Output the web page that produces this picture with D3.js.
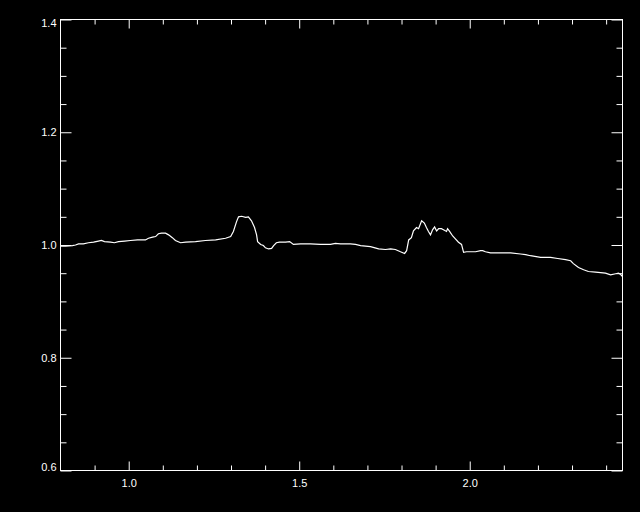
<!DOCTYPE html>
<html>
<head>
<meta charset="utf-8">
<script src="https://cdn.jsdelivr.net/npm/d3@7"></script>
<style>
  html, body { margin: 0; padding: 0; background: #000; }
  svg { display: block; }
  .tick text { font-family: "Liberation Sans", Arial, sans-serif; font-size: 11px; fill: #fff; }
</style>
</head>
<body>
<div id="chart"></div>
<script>
// values
var xValues = [0.800, 0.815, 0.835, 0.844, 0.853, 0.867, 0.882, 0.897, 0.911, 0.920,
  0.929, 0.947, 0.958, 0.970, 0.988, 1.005, 1.026, 1.049, 1.058, 1.070,
  1.079, 1.087, 1.096, 1.108, 1.117, 1.128, 1.137, 1.152, 1.167, 1.196,
  1.225, 1.255, 1.284, 1.299, 1.307, 1.316, 1.322, 1.331, 1.343, 1.351,
  1.360, 1.369, 1.375, 1.378, 1.387, 1.395, 1.401, 1.410, 1.419, 1.425,
  1.433, 1.442, 1.460, 1.472, 1.483, 1.504, 1.533, 1.562, 1.592, 1.606,
  1.621, 1.650, 1.665, 1.680, 1.709, 1.733, 1.753, 1.768, 1.782, 1.797,
  1.809, 1.815, 1.821, 1.829, 1.835, 1.844, 1.850, 1.859, 1.867, 1.873,
  1.879, 1.885, 1.891, 1.897, 1.903, 1.909, 1.917, 1.923, 1.932, 1.935,
  1.941, 1.950, 1.958, 1.967, 1.976, 1.982, 1.991, 2.017, 2.032, 2.038,
  2.046, 2.061, 2.090, 2.120, 2.149, 2.164, 2.178, 2.208, 2.237, 2.258,
  2.281, 2.296, 2.304, 2.319, 2.334, 2.348, 2.369, 2.384, 2.398, 2.413,
  2.428, 2.436, 2.442, 2.448];
var yValues = [0.998, 0.998, 0.999, 1.000, 1.002, 1.002, 1.004, 1.005, 1.007, 1.008,
  1.006, 1.005, 1.004, 1.006, 1.007, 1.008, 1.009, 1.009, 1.012, 1.014,
  1.015, 1.020, 1.021, 1.021, 1.018, 1.013, 1.008, 1.004, 1.005, 1.006,
  1.008, 1.009, 1.012, 1.015, 1.024, 1.041, 1.050, 1.051, 1.049, 1.050,
  1.043, 1.031, 1.018, 1.006, 1.001, 0.999, 0.995, 0.993, 0.994, 0.999,
  1.004, 1.005, 1.005, 1.006, 1.001, 1.002, 1.002, 1.001, 1.001, 1.003,
  1.002, 1.002, 1.001, 0.999, 0.997, 0.993, 0.992, 0.993, 0.992, 0.988,
  0.985, 0.990, 1.009, 1.013, 1.025, 1.031, 1.029, 1.043, 1.039, 1.031,
  1.024, 1.018, 1.027, 1.032, 1.025, 1.029, 1.029, 1.027, 1.024, 1.029,
  1.024, 1.016, 1.011, 1.005, 1.001, 0.987, 0.988, 0.988, 0.990, 0.990,
  0.988, 0.986, 0.986, 0.986, 0.984, 0.983, 0.981, 0.978, 0.978, 0.976,
  0.974, 0.972, 0.967, 0.960, 0.956, 0.953, 0.952, 0.951, 0.950, 0.947,
  0.949, 0.950, 0.948, 0.944];

var xDomain = [0.8, 2.448];
var yDomain = [0.6, 1.4];
var xMajorTicks = [1.0, 1.5, 2.0];
var xMinorTicks = [0.9, 1.1, 1.2, 1.3, 1.4, 1.6, 1.7, 1.8, 1.9, 2.1, 2.2, 2.3, 2.4];
var yMajorTicks = [0.6, 0.8, 1.0, 1.2, 1.4];
var yMinorTicks = [0.65, 0.7, 0.75, 0.85, 0.9, 0.95, 1.05, 1.1, 1.15, 1.25, 1.3, 1.35];

var width = 640, height = 512;
var plotLeft = 60.5, plotRight = 622.5, plotTop = 19.5, plotBottom = 470.5;

var svg = d3.select('#chart')
    .append('svg')
    .attr('width', width)
    .attr('height', height)
    .style('background', '#000');

var x = d3.scaleLinear().domain(xDomain).range([plotLeft, plotRight]);
var y = d3.scaleLinear().domain(yDomain).range([plotBottom, plotTop]);

function styleAxis(g){
  g.select('.domain').remove();
  g.selectAll('.tick line').attr('stroke', '#fff').attr('stroke-width', 1);
}

// bottom axis, labelled
svg.append('g')
    .attr('transform', 'translate(0,' + plotBottom + ')')
    .call(d3.axisBottom(x).tickValues(xMajorTicks).tickSizeInner(-9).tickSizeOuter(0).tickPadding(9)
      .tickFormat(d3.format('.1f')))
    .call(styleAxis);
svg.append('g')
    .attr('transform', 'translate(0,' + plotBottom + ')')
    .call(d3.axisBottom(x).tickValues(xMinorTicks).tickSize(-5).tickFormat(''))
    .call(styleAxis);

// top axis, mirrored
svg.append('g')
    .attr('transform', 'translate(0,' + plotTop + ')')
    .call(d3.axisTop(x).tickValues(xMajorTicks).tickSize(-9).tickFormat(''))
    .call(styleAxis);
svg.append('g')
    .attr('transform', 'translate(0,' + plotTop + ')')
    .call(d3.axisTop(x).tickValues(xMinorTicks).tickSize(-5).tickFormat(''))
    .call(styleAxis);

// left axis, labelled
var yl = svg.append('g')
    .attr('transform', 'translate(' + plotLeft + ',0)')
    .call(d3.axisLeft(y).tickValues(yMajorTicks).tickSizeInner(-11).tickSizeOuter(0).tickPadding(4)
      .tickFormat(d3.format('.1f')))
    .call(styleAxis);
yl.selectAll('.tick text')
    .attr('x', -4)
    .attr('dy', function(d){
      // IDL keeps the end labels inside the axis range
      if (d === yDomain[1]) return '0.65em';
      if (d === yDomain[0]) return '0em';
      return '0.32em';
    });
svg.append('g')
    .attr('transform', 'translate(' + plotLeft + ',0)')
    .call(d3.axisLeft(y).tickValues(yMinorTicks).tickSize(-6).tickFormat(''))
    .call(styleAxis);

// right axis, mirrored
svg.append('g')
    .attr('transform', 'translate(' + plotRight + ',0)')
    .call(d3.axisRight(y).tickValues(yMajorTicks).tickSize(-11).tickFormat(''))
    .call(styleAxis);
svg.append('g')
    .attr('transform', 'translate(' + plotRight + ',0)')
    .call(d3.axisRight(y).tickValues(yMinorTicks).tickSize(-6).tickFormat(''))
    .call(styleAxis);

// plot box
svg.append('rect')
    .attr('x', plotLeft)
    .attr('y', plotTop)
    .attr('width', plotRight - plotLeft)
    .attr('height', plotBottom - plotTop)
    .attr('fill', 'none')
    .attr('stroke', '#fff')
    .attr('stroke-width', 1);

var line = d3.line()
    .x(function(d, i){ return x(xValues[i]); })
    .y(function(d, i){ return y(yValues[i]); });

svg.append('path')
    .datum(yValues)
    .attr('d', line)
    .attr('fill', 'none')
    .attr('stroke', '#fff')
    .attr('stroke-width', 1.2);
</script>
</body>
</html>
